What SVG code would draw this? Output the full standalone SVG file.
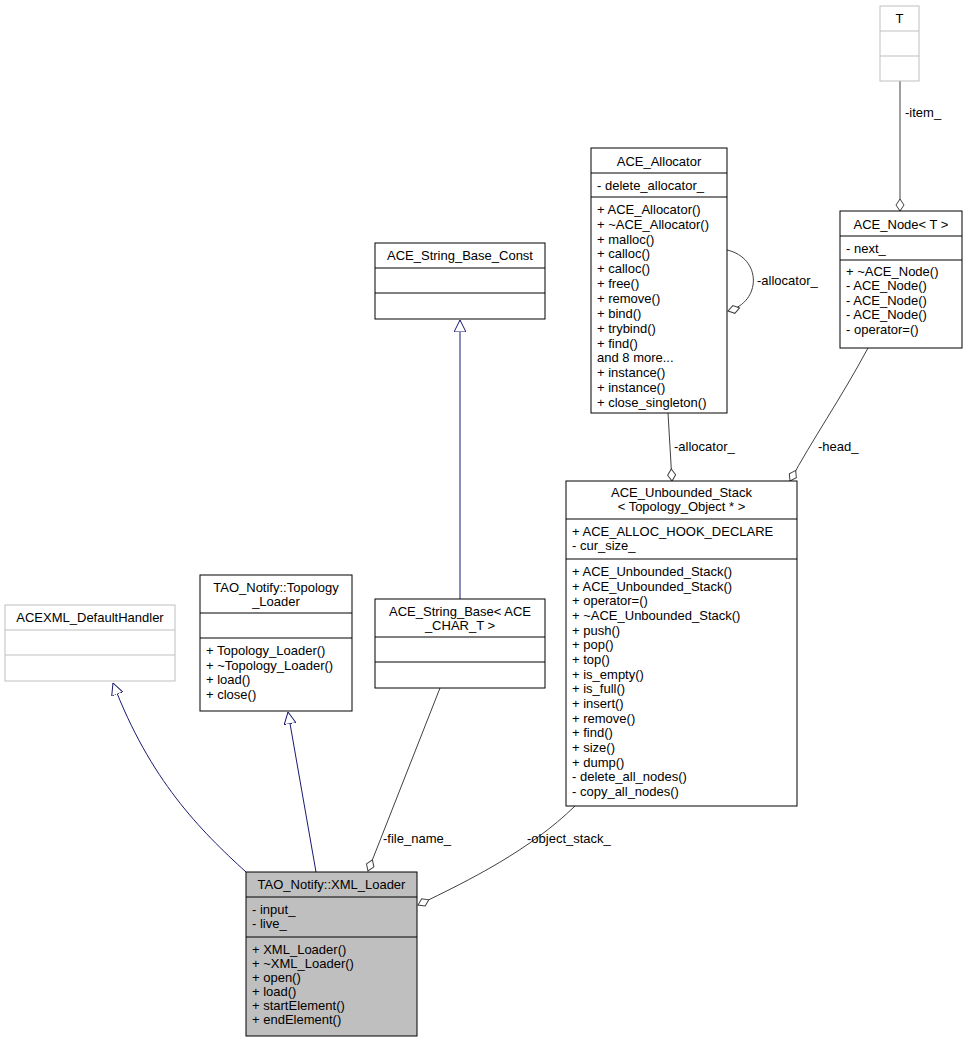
<svg xmlns="http://www.w3.org/2000/svg" width="967" height="1043" viewBox="0 0 967 1043">
<style>
text{font-family:"Liberation Sans",Arial,sans-serif;font-size:13px;fill:#000}
.c{text-anchor:middle}
rect{fill:#fff;stroke:#000;stroke-width:1}
.gr rect,.gr line{stroke:#bfbfbf}
line{stroke:#000;stroke-width:1}
.e path{fill:none;stroke:#404040;stroke-width:1}
.e path.inh{stroke:#191970}
</style>
<defs>
<marker id="tri" viewBox="0 0 12 12" refX="12" refY="6" markerWidth="12" markerHeight="12" markerUnits="userSpaceOnUse" orient="auto"><path d="M0,0 L12,6 L0,12 z" fill="#fff" stroke="#191970"/></marker>
<marker id="dia" viewBox="0 0 14 10" refX="13" refY="5" markerWidth="14" markerHeight="10" markerUnits="userSpaceOnUse" orient="auto"><path d="M1,5 L7,1 L13,5 L7,9 z" fill="#fff" stroke="#404040"/></marker>
</defs>
<g class="e">
<path class="inh" d="M246,872 C200,830 150,780 113,683" marker-end="url(#tri)"/>
<path class="inh" d="M316,872 L288,712" marker-end="url(#tri)"/>
<path class="inh" d="M460,599 L460,320" marker-end="url(#tri)"/>
<path d="M440,688 L368,871" marker-end="url(#dia)"/>
<path d="M575,806 C530,850 470,880 418,905" marker-end="url(#dia)"/>
<path d="M668,413 L672,481" marker-end="url(#dia)"/>
<path d="M868,348 C840,400 812,440 790,481" marker-end="url(#dia)"/>
<path d="M900,81 L900,211" marker-end="url(#dia)"/>
<path d="M727,250 C762,258 762,302 728,311" marker-end="url(#dia)"/>
<text x="905" y="117">-item_</text>
<text x="757" y="285">-allocator_</text>
<text x="674" y="451">-allocator_</text>
<text x="818" y="451">-head_</text>
<text x="383" y="843">-file_name_</text>
<text x="527" y="843">-object_stack_</text>
</g>
<g id="T" class="gr"><rect x="880" y="6" width="39" height="75"/><line x1="880" y1="31" x2="919" y2="31"/><line x1="880" y1="56" x2="919" y2="56"/><text class="c" x="899.5" y="23">T</text></g>
<g id="ACE_Node"><rect x="840" y="211" width="122" height="137"/><text class="c" x="901" y="229">ACE_Node&lt; T &gt;</text><line x1="840" y1="236" x2="962" y2="236"/><text x="846" y="253">- next_</text><line x1="840" y1="260" x2="962" y2="260"/>
<text x="846" y="276">+ ~ACE_Node()</text><text x="846" y="290">- ACE_Node()</text><text x="846" y="305">- ACE_Node()</text><text x="846" y="319">- ACE_Node()</text><text x="846" y="334">- operator=()</text></g>
<g id="ACE_Allocator"><rect x="591" y="148" width="136" height="265"/><text class="c" x="659" y="166">ACE_Allocator</text><line x1="591" y1="173" x2="727" y2="173"/><text x="597" y="190">- delete_allocator_</text><line x1="591" y1="197" x2="727" y2="197"/>
<text x="597" y="214">+ ACE_Allocator()</text><text x="597" y="229">+ ~ACE_Allocator()</text><text x="597" y="244">+ malloc()</text><text x="597" y="258">+ calloc()</text><text x="597" y="273">+ calloc()</text><text x="597" y="288">+ free()</text><text x="597" y="303">+ remove()</text><text x="597" y="318">+ bind()</text><text x="597" y="333">+ trybind()</text><text x="597" y="348">+ find()</text><text x="597" y="362">and 8 more...</text><text x="597" y="377">+ instance()</text><text x="597" y="392">+ instance()</text><text x="597" y="407">+ close_singleton()</text></g>
<g id="ACE_String_Base_Const"><rect x="375" y="243" width="170" height="76"/><text class="c" x="460" y="260">ACE_String_Base_Const</text><line x1="375" y1="268" x2="545" y2="268"/><line x1="375" y1="293" x2="545" y2="293"/></g>
<g id="ACE_Unbounded_Stack"><rect x="566" y="481" width="231" height="325"/><text class="c" x="681.5" y="497">ACE_Unbounded_Stack</text><text class="c" x="681.5" y="511">&lt; Topology_Object * &gt;</text><line x1="566" y1="519" x2="797" y2="519"/><text x="572" y="536">+ ACE_ALLOC_HOOK_DECLARE</text><text x="572" y="550">- cur_size_</text><line x1="566" y1="559" x2="797" y2="559"/>
<text x="572" y="576">+ ACE_Unbounded_Stack()</text><text x="572" y="591">+ ACE_Unbounded_Stack()</text><text x="572" y="605">+ operator=()</text><text x="572" y="620">+ ~ACE_Unbounded_Stack()</text><text x="572" y="635">+ push()</text><text x="572" y="649">+ pop()</text><text x="572" y="664">+ top()</text><text x="572" y="679">+ is_empty()</text><text x="572" y="693">+ is_full()</text><text x="572" y="708">+ insert()</text><text x="572" y="723">+ remove()</text><text x="572" y="737">+ find()</text><text x="572" y="752">+ size()</text><text x="572" y="767">+ dump()</text><text x="572" y="781">- delete_all_nodes()</text><text x="572" y="796">- copy_all_nodes()</text></g>
<g id="ACEXML_DefaultHandler" class="gr"><rect x="5" y="605" width="170" height="76"/><text class="c" x="90" y="622">ACEXML_DefaultHandler</text><line x1="5" y1="630" x2="175" y2="630"/><line x1="5" y1="655" x2="175" y2="655"/></g>
<g id="Topology_Loader"><rect x="200" y="575" width="152" height="136"/><text class="c" x="276" y="592">TAO_Notify::Topology</text><text class="c" x="276" y="606">_Loader</text><line x1="200" y1="613" x2="352" y2="613"/><line x1="200" y1="638" x2="352" y2="638"/>
<text x="206" y="655">+ Topology_Loader()</text><text x="206" y="670">+ ~Topology_Loader()</text><text x="206" y="684">+ load()</text><text x="206" y="699">+ close()</text></g>
<g id="ACE_String_Base"><rect x="375" y="599" width="170" height="89"/><text class="c" x="460" y="616">ACE_String_Base&lt; ACE</text><text class="c" x="460" y="630">_CHAR_T &gt;</text><line x1="375" y1="637" x2="545" y2="637"/><line x1="375" y1="662" x2="545" y2="662"/></g>
<g id="XML_Loader"><rect x="246" y="872" width="171" height="164" style="fill:#bfbfbf"/><text class="c" x="331.5" y="889">TAO_Notify::XML_Loader</text><line x1="246" y1="897" x2="417" y2="897"/><text x="252" y="914">- input_</text><text x="252" y="928">- live_</text><line x1="246" y1="937" x2="417" y2="937"/>
<text x="252" y="954">+ XML_Loader()</text><text x="252" y="968">+ ~XML_Loader()</text><text x="252" y="982">+ open()</text><text x="252" y="996">+ load()</text><text x="252" y="1010">+ startElement()</text><text x="252" y="1024">+ endElement()</text></g>
</svg>
